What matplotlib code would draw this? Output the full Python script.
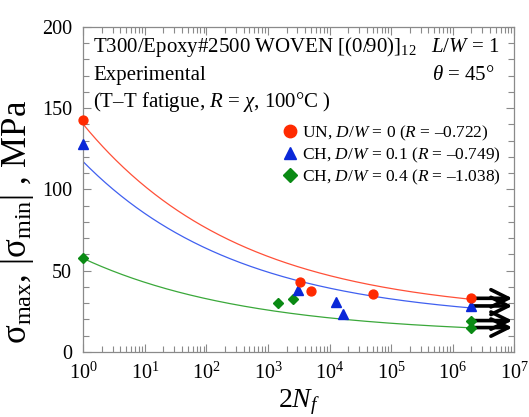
import numpy as np
import matplotlib
matplotlib.use("Agg")
import matplotlib.pyplot as plt
from matplotlib.ticker import MultipleLocator, LogLocator, NullFormatter

plt.rcParams.update({
    "font.family": ["Liberation Serif", "DejaVu Serif"],
    "mathtext.fontset": "custom",
    "mathtext.rm": "Liberation Serif",
    "mathtext.it": "Liberation Serif:italic",
    "mathtext.bf": "Liberation Serif:bold",
})

# S-N data: cycles to failure (2Nf) and max stress [MPa]
un_n = [1, 3300, 4900, 51000, 2e6]
un_s = [143, 43.3, 37.5, 35.5, 33.0]
ch1_n = [1, 3100, 12600, 16600, 2e6]
ch1_s = [128, 38.2, 31.0, 23.2, 28.3]
ch4_n = [1, 1470, 2500, 2e6, 2e6]
ch4_s = [57.6, 30.3, 32.6, 19.3, 15.0]

# fitted curves: s = s0 * (c + (1 - c) * (2Nf)**b)
fit_s0 = [140, 117, 57.5]
fit_c = [0.16, 0.16, 0.18]
fit_b = [-0.17, -0.17, -0.162]

runout_n = 2e6
runout_tip = 9.3e6

labels = [
    r"UN, $D/W$ = 0 ($R$ = –0.722)",
    r"CH, $D/W$ = 0.1 ($R$ = –0.749)",
    r"CH, $D/W$ = 0.4 ($R$ = –1.038)",
]
colors = ["#ff2a00", "#0a28d8", "#0a8a14"]
line_colors = ["#ff5038", "#4060f0", "#3aa83a"]
markers = ["o", "^", "D"]
msizes = [6.4, 6.6, 5.3]

fig = plt.figure(figsize=(5.29, 4.17), dpi=100)
ax = fig.add_axes([0.1575, 0.156, 0.8147, 0.7795])

series = [(un_n, un_s), (ch1_n, ch1_s), (ch4_n, ch4_s)]
x = np.logspace(0, 6.3, 300)

for i, (n, s) in enumerate(series):
    y = fit_s0[i] * (fit_c[i] + (1 - fit_c[i]) * x ** fit_b[i])
    ax.plot(x, y, color=line_colors[i], lw=0.9, zorder=2)

# run-out arrows
for n, s in series:
    for ni, si in zip(n, s):
        if ni >= runout_n:
            ax.annotate("", xy=(runout_tip, si), xytext=(ni, si),
                        arrowprops=dict(arrowstyle="->,head_length=1.25,head_width=0.62",
                                        color="black", lw=2.6, shrinkA=0, shrinkB=0),
                        zorder=3, annotation_clip=False)

# draw red last so it sits on top
for i in [2, 1, 0]:
    n, s = series[i]
    ax.plot(n, s, linestyle="none", marker=markers[i], ms=msizes[i],
            color=colors[i], mec=colors[i], label=labels[i], zorder=4,
            clip_on=False)

ax.set_xscale("log")
ax.set_xlim(1, 1e7)
ax.set_ylim(0, 200)
ax.yaxis.set_major_locator(MultipleLocator(50))
ax.yaxis.set_minor_locator(MultipleLocator(10))
ax.xaxis.set_major_locator(LogLocator(base=10, numticks=10))
ax.xaxis.set_minor_locator(LogLocator(base=10, subs=np.arange(2, 10), numticks=10))
ax.xaxis.set_minor_formatter(NullFormatter())

for sp in ax.spines.values():
    sp.set_color("#8a8a8a")
    sp.set_linewidth(0.9)
ax.tick_params(which="both", direction="in", top=True, right=True,
               color="#8a8a8a", labelsize=14.5, width=0.8)
ax.tick_params(which="major", length=6, pad=8)
ax.tick_params(which="minor", length=4)

ax.set_xlabel(r"2$N_f$", fontsize=20, labelpad=2)
ax.set_ylabel(r"$\mathrm{\sigma_{max}}$, $|\mathrm{\sigma_{min}}|$ , MPa", fontsize=25)
ax.yaxis.set_label_coords(-0.11, 0.40)

txt = dict(transform=ax.transAxes, fontsize=15, va="center")
ax.text(0.023, 0.938, r"T300/Epoxy#2500 WOVEN [(0/90)]$_{\mathrm{12}}$", **txt)
ax.text(0.023, 0.852, "Experimental", **txt)
ax.text(0.023, 0.768, r"(T–T fatigue, $R$ = $\chi$, 100°C )", **txt)
ax.text(0.965, 0.938, r"$L/W$ = 1", ha="right", **txt)
ax.text(0.955, 0.852, r"$\theta$ = 45°", ha="right", **txt)

handles, labs = ax.get_legend_handles_labels()
ax.legend(handles[::-1], labs[::-1], loc="upper right", bbox_to_anchor=(0.997, 0.74),
          frameon=False, fontsize=12.5, markerscale=1.4, handlelength=0.8,
          handletextpad=0.3, labelspacing=0.17, borderpad=0.2)

fig.savefig("out.png", dpi=100)
